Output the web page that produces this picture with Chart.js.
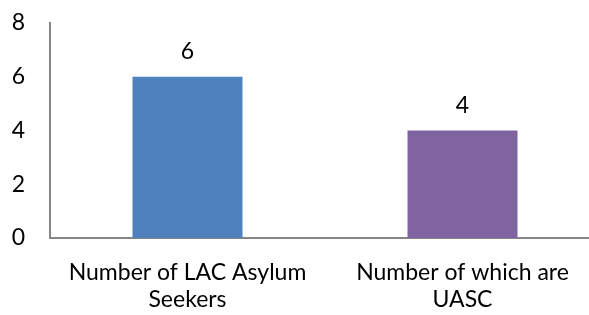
<!DOCTYPE html>
<html>
<head>
<meta charset="utf-8">
<script src="https://cdn.jsdelivr.net/npm/chart.js@4"></script>
<style>
  html, body { margin: 0; padding: 0; background: #fff; overflow: hidden; }
  #wrap { width: 600px; height: 315px; }
</style>
</head>
<body>
<div id="wrap"><canvas id="chart"></canvas></div>
<script>
const categories = [
    ['Number of LAC Asylum', 'Seekers'],
    ['Number of which are', 'UASC']
];
const counts = [6, 4];
const barColours = ['#4F81BD', '#8064A2'];
const yTicks = [0, 2, 4, 6, 8];

const fontFamily = 'Lato, "Open Sans", sans-serif';
const fontSize = 23;

// draws the value above each bar
const valueLabels = {
    id: 'valueLabels',
    afterDatasetsDraw(chart) {
        const ctx = chart.ctx;
        const meta = chart.getDatasetMeta(0);
        ctx.save();
        ctx.fillStyle = '#000';
        ctx.font = fontSize + 'px ' + fontFamily;
        ctx.textAlign = 'center';
        ctx.textBaseline = 'middle';
        meta.data.forEach((bar, i) => {
            ctx.fillText(String(counts[i]), bar.x, bar.y - 25);
        });
        ctx.restore();
    }
};

new Chart(document.getElementById('chart'), {
    type: 'bar',
    data: {
        labels: categories,
        datasets: [{
            data: counts,
            backgroundColor: barColours,
            categoryPercentage: 1,
            barPercentage: 0.4
        }]
    },
    options: {
        responsive: true,
        maintainAspectRatio: false,
        animation: false,
        layout: { padding: { top: 23, left: 0, right: 0, bottom: 0 } },
        plugins: {
            legend: { display: false },
            tooltip: { enabled: false }
        },
        scales: {
            x: {
                afterFit: axis => {
                    axis.height = 77;
                    axis.paddingLeft = 0;
                    axis.paddingRight = 0;
                },
                grid: { display: false, drawTicks: false },
                border: { display: true, color: '#868686', width: 2 },
                ticks: {
                    color: '#000',
                    padding: 21,
                    maxRotation: 0,
                    font: { family: fontFamily, size: fontSize, lineHeight: 1.17 }
                }
            },
            y: {
                min: 0,
                max: 8,
                afterBuildTicks: axis => {
                    axis.ticks = yTicks.map(v => ({ value: v }));
                },
                afterFit: axis => {
                    axis.width = 50;
                    axis.paddingTop = 0;
                    axis.paddingBottom = 0;
                },
                grid: { display: false, drawTicks: false },
                border: { display: true, color: '#868686', width: 2 },
                ticks: {
                    color: '#000',
                    padding: 25,
                    font: { family: fontFamily, size: fontSize }
                }
            }
        }
    },
    plugins: [valueLabels]
});
</script>
</body>
</html>
